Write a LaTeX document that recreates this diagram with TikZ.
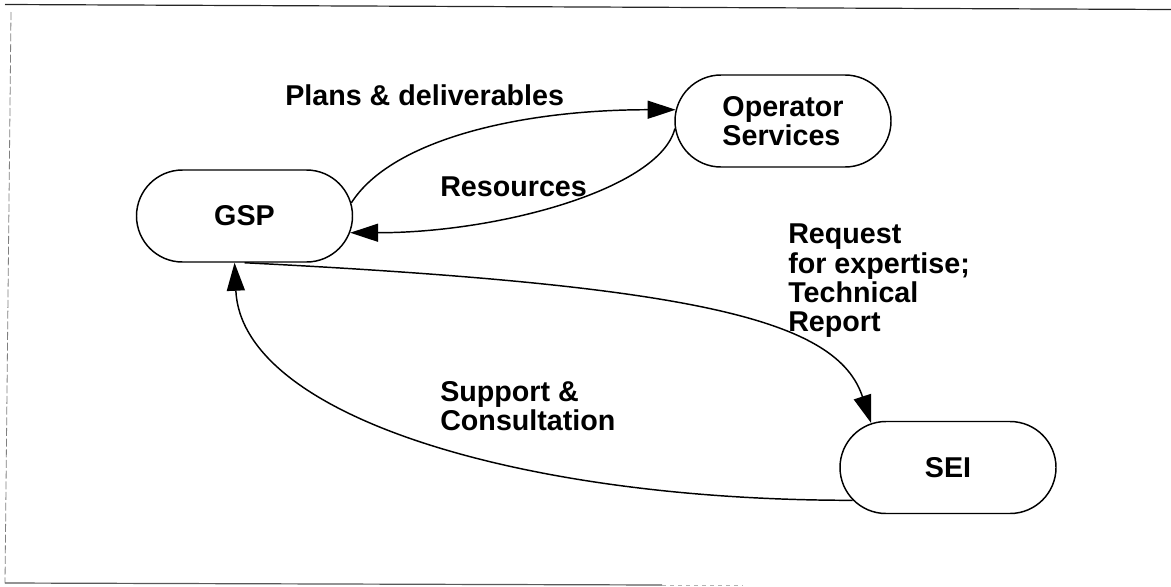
\documentclass[tikz,border=0pt]{standalone}
\usepackage{fontspec}
\setmainfont{Liberation Sans}
\usetikzlibrary{shapes.misc,arrows.meta}
\newcommand\labfont{\fontsize{21.5}{22}\selectfont\bfseries}
\begin{document}
\begin{tikzpicture}[x=0.75pt,y=-0.75pt,
  box/.style={rounded rectangle,draw,line width=1.1pt,minimum width=162pt,minimum height=69pt,inner sep=0pt,font=\labfont,align=left},
  lab/.style={inner sep=0pt,font=\labfont,align=left},
  flow/.style={line width=1.1pt,-{Triangle[length=21pt,width=13.5pt]}},
  frameline/.style={line width=0.9pt}]
\useasboundingbox (0,0) rectangle (1171,586);
% frame
\draw[frameline,black!85] (5,4.5) -- (1171,9.5);
\draw[line width=0.6pt,gray,dash pattern=on 6pt off 2pt] (11,12) -- (5,583);
\draw[frameline,gray!70!black] (5,583) -- (662,585);
\draw[line width=0.7pt,gray!60,dash pattern=on 3pt off 3pt] (662,585) -- (743,585);
% nodes
\node[box] (gsp) at (244.5,216) {GSP};
\node[box] (op) at (783,121) {Operator\\Services};
\node[box] (sei) at (948,467.5) {SEI};
% connectors
\draw[flow] (gsp.7) .. controls +(40,-63) and +(-156,0) .. (op.174);
\draw[flow] (op.184) .. controls +(-15,60) and +(150,0) .. (gsp.-9);
\draw[flow] (gsp.south) .. controls +(456,23) and +(-34,-103) .. (sei.150);
\draw[flow] (sei.199) .. controls +(-333,0) and +(7,153) .. (gsp.258);
% labels
\node[lab,anchor=base west] (lplans) at (285,105) {Plans \& deliverables};
\node[lab,anchor=base west] (lres) at (440,196) {Resources};
\node[lab,anchor=north west] (lreq) at (788,224) {Request\\for expertise;\\Technical\\Report};
\node[lab,anchor=north west] (lsup) at (440,381) {Support \&\\Consultation};
\end{tikzpicture}
\end{document}
